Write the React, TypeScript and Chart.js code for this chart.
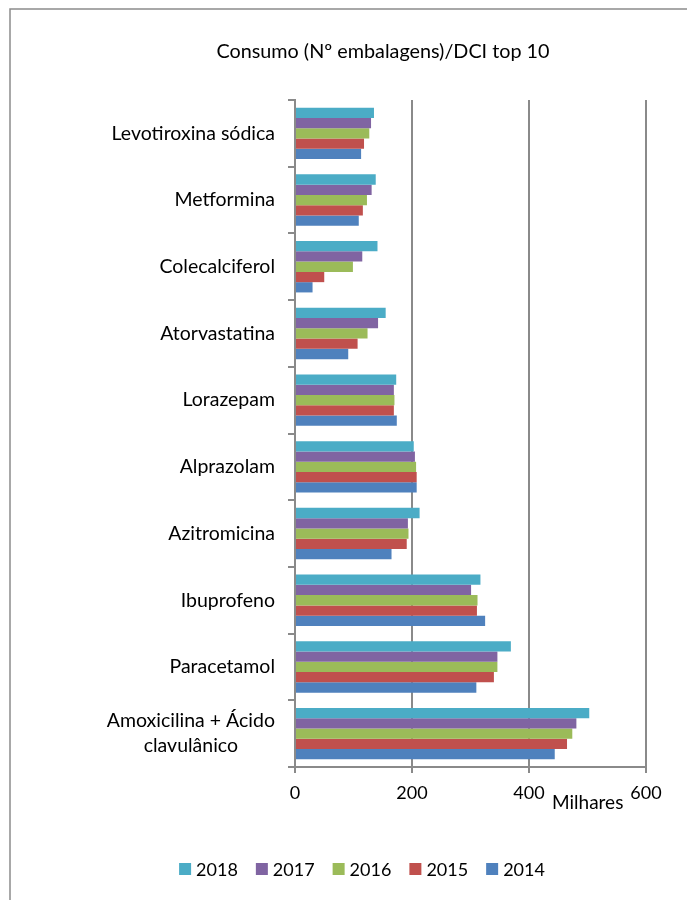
import React, { useEffect, useRef } from "react";
import { Chart, registerables } from "chart.js";

Chart.register(...registerables);

const categories: string[][] = [
  ["Levotiroxina sódica"],
  ["Metformina"],
  ["Colecalciferol"],
  ["Atorvastatina"],
  ["Lorazepam"],
  ["Alprazolam"],
  ["Azitromicina"],
  ["Ibuprofeno"],
  ["Paracetamol"],
  ["Amoxicilina + Ácido", "clavulânico"],
];

const seriesNames = ["2018", "2017", "2016", "2015", "2014"];
const seriesColors = ["#4BACC6", "#8064A2", "#9BBB59", "#C0504D", "#4F81BD"];

const values2018 = [135, 138, 141, 155, 173, 203, 213, 317, 369, 503];
const values2017 = [130, 131, 115, 142, 169, 205, 193, 301, 346, 481];
const values2016 = [127, 123, 99, 124, 170, 207, 194, 312, 346, 474];
const values2015 = [118, 116, 50, 107, 169, 208, 191, 311, 340, 465];
const values2014 = [113, 109, 30, 91, 174, 208, 165, 325, 310, 444];

const xMin = 0;
const xMax = 600;
const xStep = 200;

const titleText = "Consumo (Nº embalagens)/DCI top 10";
const unitText = "Milhares";

const FONT = "Lato";
const GRID = "#8a8a8a";

export default function App() {
  const ref = useRef<HTMLCanvasElement | null>(null);

  useEffect(() => {
    const canvas = ref.current;
    if (!canvas) return;
    const seriesValues = [values2018, values2017, values2016, values2015, values2014];

    const decor = {
      id: "decor",
      beforeDraw(chart: any) {
        const ctx = chart.ctx;
        ctx.save();
        ctx.fillStyle = "#ffffff";
        ctx.fillRect(0, 0, chart.width, chart.height);
        ctx.strokeStyle = "#8c8c8c";
        ctx.lineWidth = 1.5;
        ctx.strokeRect(10, 9, chart.width + 50, chart.height + 50);
        ctx.restore();
      },
      afterDraw(chart: any) {
        const ctx = chart.ctx;
        const yScale = chart.scales.y;
        const xScale = chart.scales.x;
        ctx.save();
        ctx.fillStyle = "#000000";
        // title
        ctx.font = `19.8px ${FONT}`;
        ctx.textAlign = "center";
        ctx.textBaseline = "middle";
        ctx.fillText(titleText, 383, 52);
        // category labels
        ctx.font = `19.5px ${FONT}`;
        const rightEdge = xScale.left - 20;
        const lineH = 25;
        chart.data.labels.forEach((lab: string[], i: number) => {
          const cy = yScale.getPixelForValue(i);
          const widths = lab.map((l) => ctx.measureText(l).width);
          const bw = Math.max(...widths);
          const cx = rightEdge - bw / 2;
          const top = cy - ((lab.length - 1) * lineH) / 2;
          lab.forEach((l, k) => {
            ctx.textAlign = "center";
            ctx.fillText(l, cx, top + k * lineH);
          });
        });
        // unit label
        ctx.font = `19px ${FONT}`;
        ctx.textAlign = "left";
        ctx.fillText(unitText, 552, 803);
        // legend
        ctx.font = `18px ${FONT}`;
        const box = 12;
        const gapBox = 5;
        const gapItem = 18;
        const items = chart.data.datasets.map((d: any) => ({
          label: d.label,
          color: d.backgroundColor,
          w: box + gapBox + ctx.measureText(d.label).width,
        }));
        const total = items.reduce((s: number, it: any) => s + it.w, 0) + gapItem * (items.length - 1);
        let x = 362 - total / 2;
        const ly = 869;
        items.forEach((it: any) => {
          ctx.fillStyle = it.color;
          ctx.fillRect(x, ly - box / 2, box, box);
          ctx.fillStyle = "#000000";
          ctx.textAlign = "left";
          ctx.textBaseline = "middle";
          ctx.fillText(it.label, x + box + gapBox, ly + 1);
          x += it.w + gapItem;
        });
        ctx.restore();
      },
    };

    const chart = new Chart(canvas, {
      type: "bar",
      data: {
        labels: categories,
        datasets: seriesNames.map((name, i) => ({
          label: name,
          data: seriesValues[i],
          backgroundColor: seriesColors[i],
          borderWidth: 0,
          categoryPercentage: 0.77,
          barPercentage: 1.0,
        })),
      },
      options: {
        indexAxis: "y",
        responsive: false,
        animation: false,
        devicePixelRatio: 1,
        layout: { padding: { left: 10, right: 41, top: 100, bottom: 93 } },
        plugins: {
          legend: { display: false },
          title: { display: false },
          tooltip: { enabled: false },
        },
        scales: {
          x: {
            min: xMin,
            max: xMax,
            ticks: {
              stepSize: xStep,
              color: "#000000",
              font: { family: FONT, size: 18 },
              padding: 9,
            },
            grid: {
              color: GRID,
              lineWidth: 2,
              drawTicks: true,
              tickLength: 6,
              tickColor: GRID,
            },
            border: { display: true, color: GRID, width: 2 },
            afterFit: (s: any) => {
              s.height = 40;
            },
          },
          y: {
            ticks: { display: false },
            grid: {
              drawOnChartArea: false,
              drawTicks: true,
              tickLength: 7,
              color: GRID,
              lineWidth: 2,
              offset: true,
            },
            border: { display: true, color: GRID, width: 2 },
            afterFit: (s: any) => {
              s.width = 285;
            },
          },
        },
      },
      plugins: [decor],
    } as any);

    return () => chart.destroy();
  }, []);

  return (
    <div style={{ position: "absolute", left: 0, top: 0, width: 687, height: 900 }}>
      <canvas ref={ref} width={687} height={900} style={{ display: "block", width: 687, height: 900 }} />
    </div>
  );
}
